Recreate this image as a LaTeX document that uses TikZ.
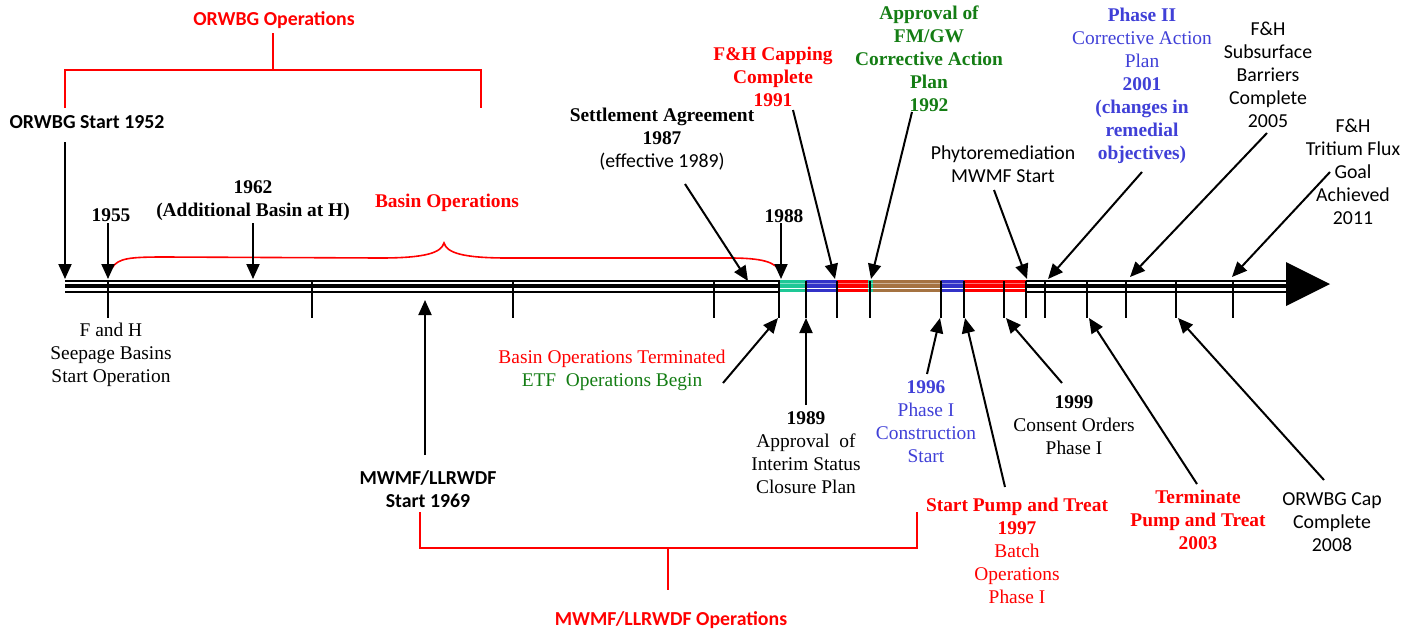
\documentclass[tikz,border=0pt]{standalone}
\usepackage{fontspec}
\setmainfont{Liberation Serif}
\newfontfamily\calib{Carlito}
\usetikzlibrary{arrows.meta}
\definecolor{tred}{RGB}{255,0,0}
\definecolor{tgreen}{RGB}{20,125,20}
\definecolor{tblue}{RGB}{64,64,215}
\definecolor{steal}{RGB}{30,200,150}
\definecolor{sblue}{RGB}{50,50,200}
\definecolor{sred}{RGB}{255,0,0}
\definecolor{sbrown}{RGB}{165,115,65}
\newcommand{\tlseg}[3]{%
  \fill[white] (#2,279) rectangle (#3,293.5);
  \fill[#1] (#2,279.8) rectangle (#3,287.8);
  \draw[white,opacity=0.45,line width=0.8pt] (#2,283.3) -- (#3,283.3);
  \fill[#1] (#2,289.4) rectangle (#3,292.4);}
\newcommand{\srf}{\fontsize{19.4}{23}\selectfont}
\newcommand{\snf}{\calib\fontsize{19.8}{23}\selectfont}
\begin{document}
\begin{tikzpicture}[x=1pt,y=-1pt,
  txt/.style={align=center, inner sep=0pt, font=\srf},
  sans/.style={align=center, inner sep=0pt, font=\snf},
  ptr/.style={line width=2pt, -{Triangle[width=13pt,length=15pt]}},
  tickline/.style={line width=2pt},
  brk/.style={draw=tred, line width=2pt},
  tlthin/.style={line width=1.5pt},
  tlthick/.style={line width=4pt}]
\useasboundingbox (0,0) rectangle (1417,630);

% ---------------- timeline
\coordinate (tlA) at (65,281);   \coordinate (tlB) at (1288,281);
\coordinate (tlC) at (65,285.5); \coordinate (tlD) at (1288,285.5);
\coordinate (tlE) at (65,292);   \coordinate (tlF) at (1288,292);
\draw[tlthin] (tlA) -- (tlB);
\draw[tlthick] (tlC) -- (tlD);
\draw[tlthin] (tlE) -- (tlF);
\tlseg{steal}{780}{806}
\tlseg{sblue}{806}{837}
\tlseg{sred}{837}{868}
\tlseg{steal}{868}{873}
\tlseg{sbrown}{873}{941}
\tlseg{sblue}{941}{964}
\tlseg{sred}{964}{1026}
\fill (1286,262) -- (1330,284) -- (1286,306) -- cycle;

% ticks
\foreach \t [count=\i] in {108,312,513,714,779,806,837,870,941,964,1004,1026,1045,1087,1126,1176,1233}{
  \coordinate (tt\i) at (\t,281);
  \coordinate (tb\i) at (\t,318);
  \draw[tickline] (tt\i) -- (tb\i);
}

% ---------------- upper labels
\node[sans,text=tred,font=\snf\bfseries] (orwbgops) at (274,20) {ORWBG Operations};
\node[sans,font=\snf\bfseries] (orwbgstart) at (87,122) {ORWBG Start 1952};
\node[txt,font=\srf\bfseries] (y1955) at (111,215) {1955};
\node[txt,font=\srf\bfseries] (y1962) at (253,201) {1962\\(Additional Basin at H)};
\node[txt,text=tred,font=\srf\bfseries] (basinops) at (447,203) {Basin Operations};
\node[txt] (settle) at (662,139) {\bfseries Settlement Agreement\\\bfseries 1987\\{\snf (effective 1989)}};
\node[txt,font=\srf\bfseries] (y1988) at (784,216) {1988};
\node[txt,text=tred,font=\srf\bfseries] (capping) at (773,77) {F\&H Capping\\Complete\\1991};
\node[txt,text=tgreen,font=\srf\bfseries] (fmgw) at (929,59) {Approval of\\FM/GW\\Corrective Action\\Plan\\1992};
\node[sans] (phyto) at (1003,164) {Phytoremediation\\MWMF Start};
\node[txt,text=tblue] (phase2) at (1142,86) {\bfseries Phase II\\Corrective Action\\Plan\\\bfseries 2001\\\bfseries (changes in\\\bfseries remedial\\\bfseries objectives)};
\node[sans] (subsurf) at (1268,75) {F\&H\\Subsurface\\Barriers\\Complete\\2005};
\node[sans] (tritium) at (1353,172) {F\&H\\Tritium Flux\\Goal\\Achieved\\2011};

% ---------------- lower labels
\node[txt] (fandh) at (111,355) {F and H\\Seepage Basins\\Start Operation};
\node[sans,font=\snf\bfseries] (mwmfstart) at (428,489) {MWMF/LLRWDF\\Start 1969};
\node[sans,text=tred,font=\snf\bfseries] (mwmfops) at (671,620) {MWMF/LLRWDF Operations};
\node[txt] (basinterm) at (612,370) {\textcolor{tred}{Basin Operations Terminated}\\\textcolor{tgreen}{ETF\ \ Operations Begin}};
\node[txt] (y1989) at (806,453) {\bfseries 1989\\Approval\ \ of\\Interim Status\\Closure Plan};
\node[txt,text=tblue] (y1996) at (926,422) {\bfseries 1996\\Phase I\\Construction\\Start};
\node[txt,text=tred] (pump) at (1017,551) {\bfseries Start Pump and Treat\\\bfseries 1997\\Batch\\Operations\\Phase I};
\node[txt] (y1999) at (1074,425) {\bfseries 1999\\Consent Orders\\Phase I};
\node[txt,text=tred,font=\srf\bfseries] (term) at (1198,520) {Terminate\\Pump and Treat\\2003};
\node[sans] (cap) at (1332,522) {ORWBG Cap\\Complete\\2008};

% ---------------- brackets
\coordinate (ob0) at (273,33); \coordinate (ob1) at (273,70);
\coordinate (ob2) at (65,70); \coordinate (ob3) at (481,70);
\coordinate (ob4) at (65,108); \coordinate (ob5) at (481,108);
\draw[brk] (ob0) -- (ob1);
\draw[brk] (ob4) -- (ob2) -- (ob3) -- (ob5);

\coordinate (mb0) at (420,512); \coordinate (mb1) at (420,548);
\coordinate (mb2) at (917,548); \coordinate (mb3) at (917,512);
\coordinate (mb4) at (668,548); \coordinate (mb5) at (668,590);
\draw[brk] (mb0) -- (mb1) -- (mb2) -- (mb3);
\draw[brk] (mb4) -- (mb5);

% basin operations curly brace
\coordinate (br0) at (112,268); \coordinate (brpk) at (444,243); \coordinate (br1) at (780,272);
\draw[tred,line width=1.6pt] (br0) .. controls (118,258) and (130,257) .. (165,257)
  -- (380,258) .. controls (425,258) and (441,253) .. (brpk)
  .. controls (447,253) and (463,258) .. (508,258)
  -- (730,258) .. controls (762,258) and (776,262) .. (br1);

% ---------------- down arrows
\coordinate (a1s) at (65,142);   \coordinate (a1e) at (65,279);
\coordinate (a2s) at (108,223);  \coordinate (a2e) at (108,279);
\coordinate (a3s) at (253,223);  \coordinate (a3e) at (253,279);
\coordinate (a4s) at (685,184);  \coordinate (a4e) at (748,281);
\coordinate (a5s) at (781,223);  \coordinate (a5e) at (781,279);
\coordinate (a6s) at (793,110);  \coordinate (a6e) at (835,279);
\coordinate (a7s) at (912,112);  \coordinate (a7e) at (871,279);
\coordinate (a8s) at (994,190);  \coordinate (a8e) at (1027,279);
\coordinate (a9s) at (1142,172); \coordinate (a9e) at (1048,279);
\coordinate (a10s) at (1267,133);\coordinate (a10e) at (1130,277);
\coordinate (a11s) at (1330,172);\coordinate (a11e) at (1232,277);
\foreach \i in {1,...,11}{\draw[ptr] (a\i s) -- (a\i e);}

% ---------------- up arrows
\coordinate (u1s) at (425,455);  \coordinate (u1e) at (425,300);
\coordinate (u2s) at (723,383);  \coordinate (u2e) at (778,318);
\coordinate (u3s) at (806,405);  \coordinate (u3e) at (806,318);
\coordinate (u4s) at (927,374);  \coordinate (u4e) at (940,318);
\coordinate (u5s) at (1005,487); \coordinate (u5e) at (965,318);
\coordinate (u6s) at (1062,383); \coordinate (u6e) at (1006,318);
\coordinate (u7s) at (1197,484); \coordinate (u7e) at (1089,318);
\coordinate (u8s) at (1324,480); \coordinate (u8e) at (1178,318);
\foreach \i in {1,...,8}{\draw[ptr] (u\i s) -- (u\i e);}
\end{tikzpicture}
\end{document}
